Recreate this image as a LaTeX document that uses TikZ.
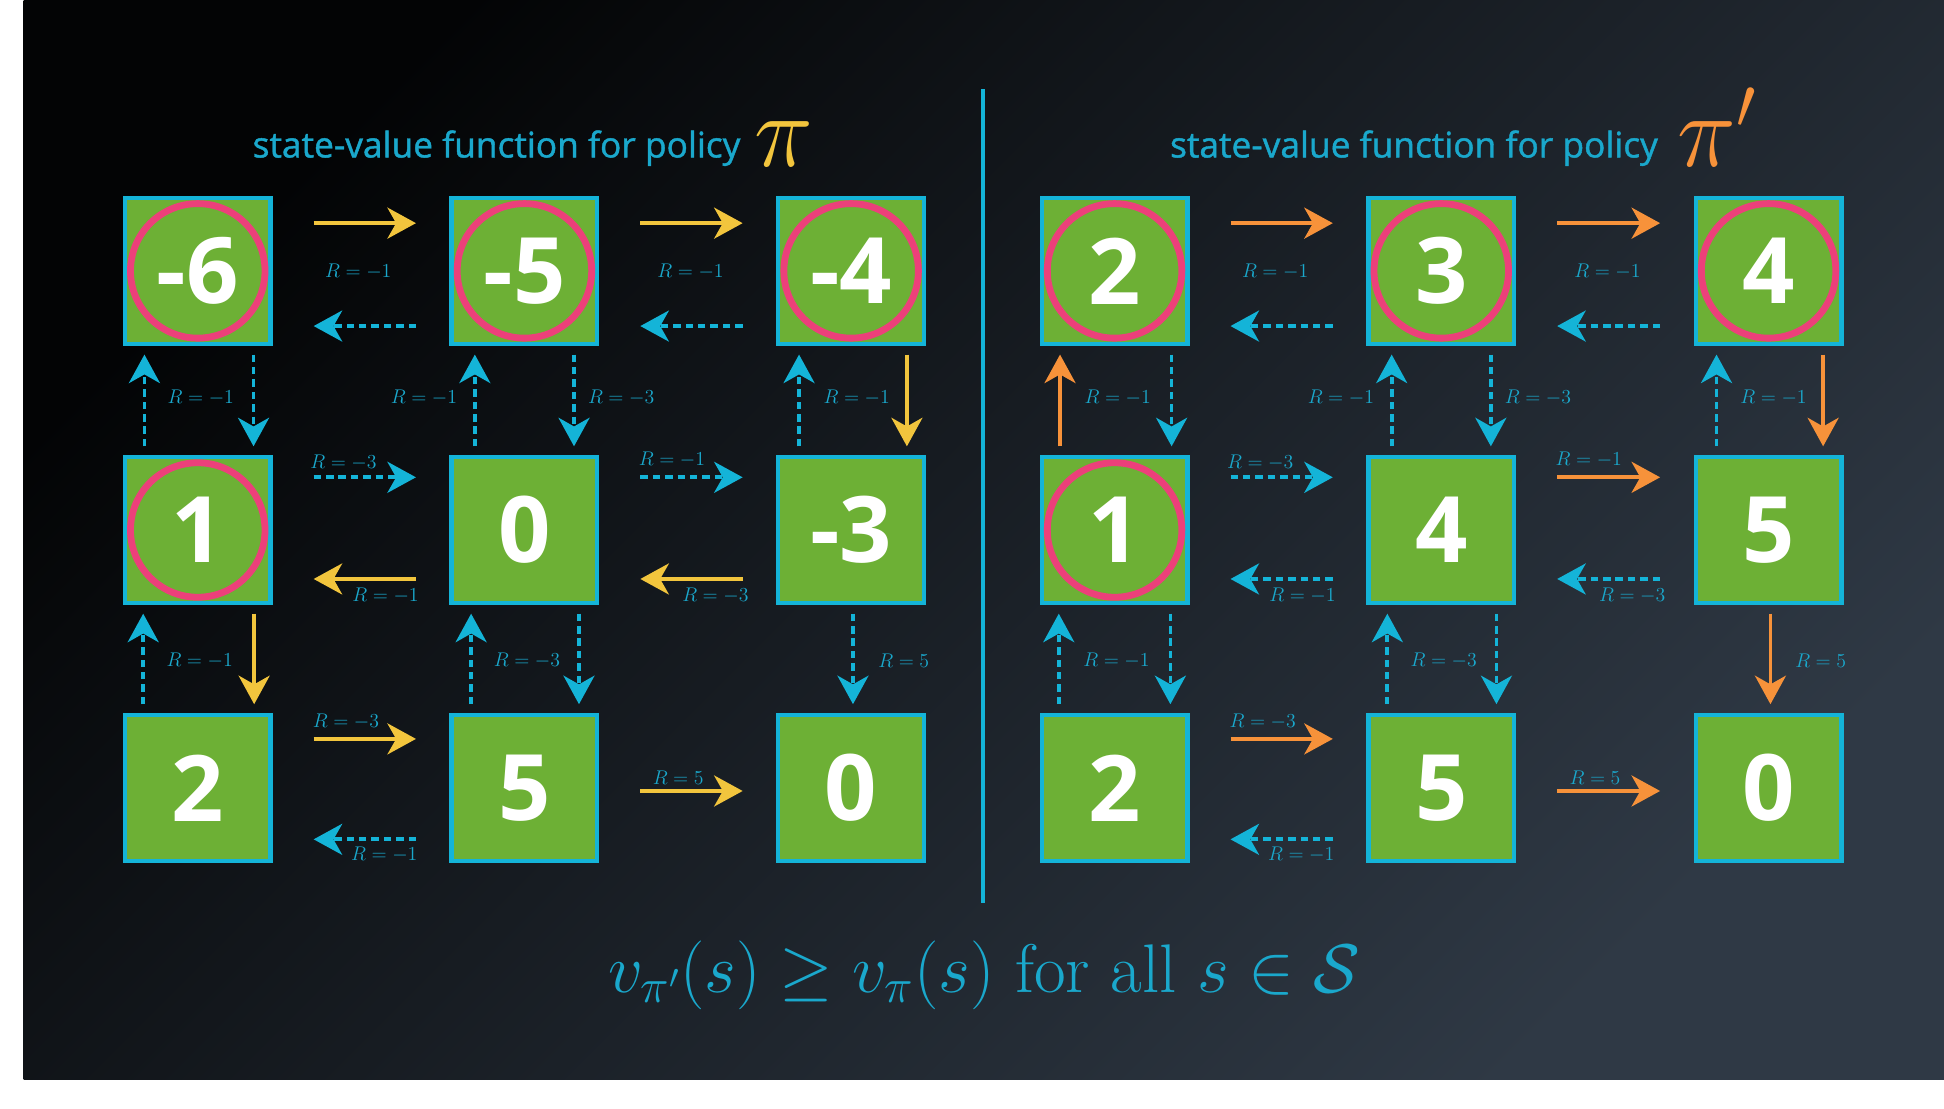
\RequirePackage{fix-cm}
\documentclass[tikz,border=0pt]{standalone}
\usepackage{fontspec}
\usetikzlibrary{arrows.meta,calc}
\newfontfamily\osans{Open Sans}
\newfontfamily\osanst{Open Sans}[FakeBold=1.2]
\definecolor{cy}{HTML}{14B4D8}
\definecolor{cytext}{HTML}{1AA8CC}
\definecolor{gr}{HTML}{6DB035}
\definecolor{pk}{HTML}{EC407A}
\definecolor{yl}{HTML}{F2C53D}
\definecolor{og}{HTML}{F7923A}
\definecolor{bgA}{HTML}{030405}
\definecolor{bgB}{HTML}{14191F}
\definecolor{bgC}{HTML}{2F3945}
\newcommand\myHR[4]{\draw[#1] ([xshift=33pt,yshift=#4]#2.east) -- ([xshift=-27pt,yshift=#4]#3.west);}
\newcommand\myHL[4]{\draw[#1] ([xshift=-27pt,yshift=#4]#2.west) -- ([xshift=33pt,yshift=#4]#3.east);}
\newcommand\myVD[4]{\draw[#1] ([xshift=#4,yshift=-7pt]#2.south) -- ([xshift=#4,yshift=7pt]#3.north);}
\newcommand\myVU[4]{\draw[#1] ([xshift=#4,yshift=7pt]#2.north) -- ([xshift=#4,yshift=-7pt]#3.south);}
\begin{document}
\begin{tikzpicture}[x=1pt,y=1pt,
  box/.style={draw=cy, fill=gr, line width=3.5pt, minimum size=117.5pt, inner sep=0pt, text=white,
    font=\osans\bfseries\fontsize{74}{74}\selectfont},
  ring/.style={circle, draw=pk, line width=5.5pt, minimum size=108.5pt, inner sep=0pt},
  ys/.style={draw=yl, line width=3pt, -{Stealth[length=23pt,width=25pt,inset=7pt]}},
  os/.style={draw=og, line width=3pt, -{Stealth[length=23pt,width=25pt,inset=7pt]}},
  cd/.style={draw=cy, line width=3pt, dash pattern=on 6pt off 4pt, -{Stealth[length=23pt,width=25pt,inset=7pt]}},
  rl/.style={text=cytext, inner sep=0pt, font=\fontsize{16}{16}\selectfont},
  ttl/.style={text=cytext, inner sep=0pt, anchor=base, font=\osanst\fontsize{28.5}{30}\selectfont},
  pis/.style={inner sep=0pt, anchor=base west, font=\fontsize{80}{80}\selectfont}
]
\useasboundingbox (0,0) rectangle (1568,894);
\fill[white] (0,0) rectangle (1568,894);
\shade[top color=bgA, middle color=bgB, bottom color=bgC, shading angle=45] (19,23) rectangle (1568,894);

% titles
\node[ttl] (t1) at (400.5,767) {state-value function for policy};
\node[pis, text=yl] (p1) at (608,760) {\scalebox{1}[1.05]{$\pi$}};
\node[ttl] (t2) at (1140.5,767) {state-value function for policy};
\node[pis, text=og] (p2) at (1353,760) {\scalebox{1}[1.05]{$\pi'$}};

% separator
\draw[cy, line width=3pt] (793,822) -- (793,166);

% left panel boxes
\node[box] (L11) at (159.5,675.5) {-6};
\node[box] (L12) at (423,675.5) {-5};
\node[box] (L13) at (686.5,675.5) {-4};
\node[box] (L21) at (159.5,466.5) {1};
\node[box] (L22) at (423,466.5) {0};
\node[box] (L23) at (686.5,466.5) {-3};
\node[box] (L31) at (159.5,258.5) {2};
\node[box] (L32) at (423,258.5) {5};
\node[box] (L33) at (686.5,258.5) {0};
\node[ring] (cL11) at (L11) {};
\node[ring] (cL12) at (L12) {};
\node[ring] (cL13) at (L13) {};
\node[ring] (cL21) at (L21) {};

% right panel boxes
\node[box] (R11) at (899,675.5) {2};
\node[box] (R12) at (1162.5,675.5) {3};
\node[box] (R13) at (1426.5,675.5) {4};
\node[box] (R21) at (899,466.5) {1};
\node[box] (R22) at (1162.5,466.5) {4};
\node[box] (R23) at (1426.5,466.5) {5};
\node[box] (R31) at (899,258.5) {2};
\node[box] (R32) at (1162.5,258.5) {5};
\node[box] (R33) at (1426.5,258.5) {0};
\node[ring] (cR11) at (R11) {};
\node[ring] (cR12) at (R12) {};
\node[ring] (cR13) at (R13) {};
\node[ring] (cR21) at (R21) {};

% ---------- left panel arrows ----------
\myHR{ys}{L11}{L12}{38.5pt}
\myHL{cd}{L12}{L11}{-44.5pt}
\myHR{ys}{L12}{L13}{38.5pt}
\myHL{cd}{L13}{L12}{-44.5pt}
\myVU{cd}{L21}{L11}{-43pt}
\myVD{cd}{L11}{L21}{45pt}
\myVU{cd}{L22}{L12}{-40pt}
\myVD{cd}{L12}{L22}{40pt}
\myVU{cd}{L23}{L13}{-42pt}
\myVD{ys}{L13}{L23}{45pt}
\myHR{cd}{L21}{L22}{42.5pt}
\myHL{ys}{L22}{L21}{-39.5pt}
\myHR{cd}{L22}{L23}{42.5pt}
\myHL{ys}{L23}{L22}{-39.5pt}
\myVU{cd}{L31}{L21}{-44pt}
\myVD{ys}{L21}{L31}{45.5pt}
\myVU{cd}{L32}{L22}{-43pt}
\myVD{cd}{L22}{L32}{44pt}
\myVD{cd}{L23}{L33}{1.5pt}
\myHR{ys}{L31}{L32}{39.5pt}
\myHL{cd}{L32}{L31}{-41.5pt}
\myHR{ys}{L32}{L33}{-2.5pt}

% ---------- right panel arrows ----------
\myHR{os}{R11}{R12}{38.5pt}
\myHL{cd}{R12}{R11}{-44.5pt}
\myHR{os}{R12}{R13}{38.5pt}
\myHL{cd}{R13}{R12}{-44.5pt}
\myVU{os}{R21}{R11}{-44pt}
\myVD{cd}{R11}{R21}{46pt}
\myVU{cd}{R22}{R12}{-40pt}
\myVD{cd}{R12}{R22}{40pt}
\myVU{cd}{R23}{R13}{-42pt}
\myVD{os}{R13}{R23}{44pt}
\myHR{cd}{R21}{R22}{42.5pt}
\myHL{cd}{R22}{R21}{-39.5pt}
\myHR{os}{R22}{R23}{42.5pt}
\myHL{cd}{R23}{R22}{-39.5pt}
\myVU{cd}{R31}{R21}{-45pt}
\myVD{cd}{R21}{R31}{45pt}
\myVU{cd}{R32}{R22}{-43.5pt}
\myVD{cd}{R22}{R32}{44.5pt}
\myVD{os}{R23}{R33}{1.5pt}
\myHR{os}{R31}{R32}{39.5pt}
\myHL{cd}{R32}{R31}{-41.5pt}
\myHR{os}{R32}{R33}{-2.5pt}

% ---------- left labels ----------
\node[rl] (a1) at (289,675) {$R=-1$};
\node[rl] (a2) at (557,675) {$R=-1$};
\node[rl] (a3) at (162,573) {$R=-1$};
\node[rl] (a4) at (342,573) {$R=-1$};
\node[rl] (a5) at (501,573) {$R=-3$};
\node[rl] (a6) at (691,573) {$R=-1$};
\node[rl] (a7) at (277,521) {$R=-3$};
\node[rl] (a8) at (542,523) {$R=-1$};
\node[rl] (a9) at (311,414) {$R=-1$};
\node[rl] (a10) at (577,414) {$R=-3$};
\node[rl] (a11) at (161,361) {$R=-1$};
\node[rl] (a12) at (425,361) {$R=-3$};
\node[rl] (a13) at (729,361) {$R=5$};
\node[rl] (a14) at (279,312) {$R=-3$};
\node[rl] (a15) at (310,205) {$R=-1$};
\node[rl] (a16) at (547,267) {$R=5$};

% ---------- right labels ----------
\begin{scope}[xshift=739.5pt]
\node[rl] (b1) at (289,675) {$R=-1$};
\node[rl] (b2) at (557,675) {$R=-1$};
\node[rl] (b3) at (162,573) {$R=-1$};
\node[rl] (b4) at (342,573) {$R=-1$};
\node[rl] (b5) at (501,573) {$R=-3$};
\node[rl] (b6) at (691,573) {$R=-1$};
\node[rl] (b7) at (277,521) {$R=-3$};
\node[rl] (b8) at (542,523) {$R=-1$};
\node[rl] (b9) at (311,414) {$R=-1$};
\node[rl] (b10) at (577,414) {$R=-3$};
\node[rl] (b11) at (161,361) {$R=-1$};
\node[rl] (b12) at (425,361) {$R=-3$};
\node[rl] (b13) at (729,361) {$R=5$};
\node[rl] (b14) at (279,312) {$R=-3$};
\node[rl] (b15) at (310,205) {$R=-1$};
\node[rl] (b16) at (547,267) {$R=5$};
\end{scope}

% equation
\node[anchor=base, inner sep=0pt, text=cytext, font=\fontsize{55.5}{60}\selectfont] (eq) at (794,93.5)
  {$v_{\pi'}(s)\geq v_\pi(s)\mbox{ for all }s\in\mathcal{S}$};
\end{tikzpicture}
\end{document}
